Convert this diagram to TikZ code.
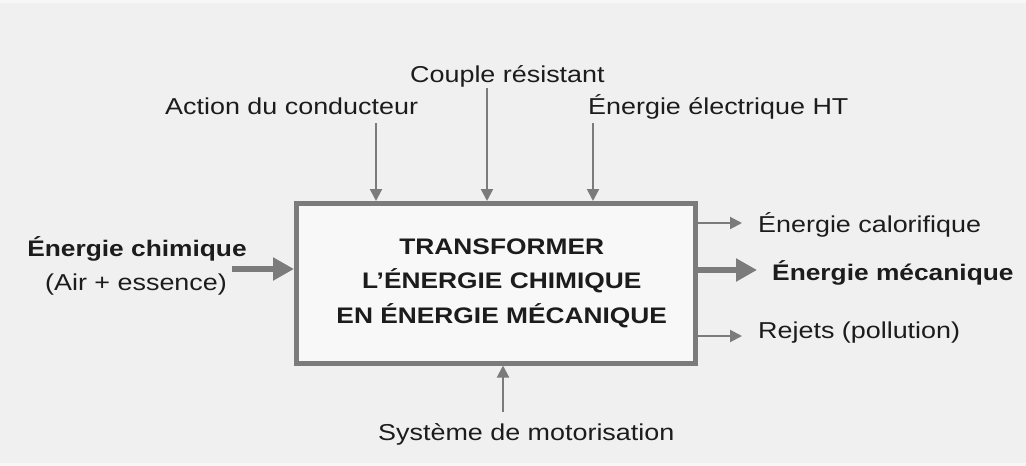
\documentclass[tikz,border=0pt]{standalone}
\usepackage{fontspec}
\setmainfont{Liberation Sans}[FakeStretch=1.17]
\usetikzlibrary{arrows.meta}
\definecolor{bgc}{HTML}{F0F0F0}
\definecolor{edgec}{HTML}{F7F7F7}
\definecolor{boxfill}{HTML}{F8F8F8}
\definecolor{linec}{HTML}{7B7B7B}
\definecolor{txtc}{HTML}{1C1C1C}
\newcommand{\boxline}[1]{\hspace*{12pt}#1}
\tikzset{
  lbl/.style={inner sep=0pt, text=txtc, font=\fontsize{23}{28}\selectfont},
  blbl/.style={inner sep=0pt, text=txtc, font=\fontsize{22.5}{28}\selectfont\bfseries},
  mainbox/.style={draw=linec, fill=boxfill, line width=5pt, rectangle, minimum width=398.5pt, minimum height=159.5pt, inner sep=0pt, align=center, text=txtc, font=\fontsize{22.5}{34.2}\selectfont\bfseries},
  thinarrow/.style={draw=linec, line width=2pt, -{Triangle[length=12pt,width=12pt]}},
  bigarrow/.style={draw=linec, line width=5.5pt, -{Triangle[length=21pt,width=22pt]}}
}
\begin{document}
\begin{tikzpicture}[x=1pt,y=-1pt]
  \fill[bgc] (0,0) rectangle (1026,466);
  \fill[edgec] (0,0) rectangle (1026,3);
  \fill[edgec] (0,463) rectangle (1026,466);
  \useasboundingbox (0,0) rectangle (1026,466);

  % main box
  \node[mainbox] (box) at (495.75,283.25) {\boxline{TRANSFORMER}\\\boxline{L’ÉNERGIE CHIMIQUE}\\\boxline{EN ÉNERGIE MÉCANIQUE}};

  % top labels
  \node[lbl, anchor=base west] (act) at (165,114) {Action du conducteur};
  \node[lbl, anchor=base west] (cpl) at (410,82) {Couple résistant};
  \node[lbl, anchor=base west] (eht) at (588,114) {Énergie électrique HT};

  \coordinate (a1) at (376,123);
  \coordinate (a2) at (487,88);
  \coordinate (a3) at (593,123);
  \draw[thinarrow] (a1) -- (a1 |- box.north);
  \draw[thinarrow] (a2) -- (a2 |- box.north);
  \draw[thinarrow] (a3) -- (a3 |- box.north);

  % left input
  \node[blbl, anchor=base] (ec1) at (137,256.7) {Énergie chimique};
  \node[lbl, anchor=base] (ec2) at (136,290) {(Air + essence)};
  \coordinate (in1) at (232,269);
  \draw[bigarrow] (in1) -- (in1 -| box.west);

  % right outputs
  \node[lbl, anchor=base west] (cal) at (758,232.7) {Énergie calorifique};
  \node[blbl, anchor=base west] (mec) at (772,280) {Énergie mécanique};
  \node[lbl, anchor=base west] (rej) at (758,338) {Rejets (pollution)};
  \coordinate (o1) at (742,223);
  \coordinate (o2) at (757,270);
  \coordinate (o3) at (742,336);
  \draw[thinarrow] (o1 -| box.east) -- (o1);
  \draw[bigarrow] (o2 -| box.east) -- (o2);
  \draw[thinarrow] (o3 -| box.east) -- (o3);

  % bottom
  \node[lbl, anchor=base west] (sys) at (378,440) {Système de motorisation};
  \coordinate (s1) at (503,412);
  \draw[thinarrow] (s1) -- (s1 |- box.south);
\end{tikzpicture}
\end{document}
